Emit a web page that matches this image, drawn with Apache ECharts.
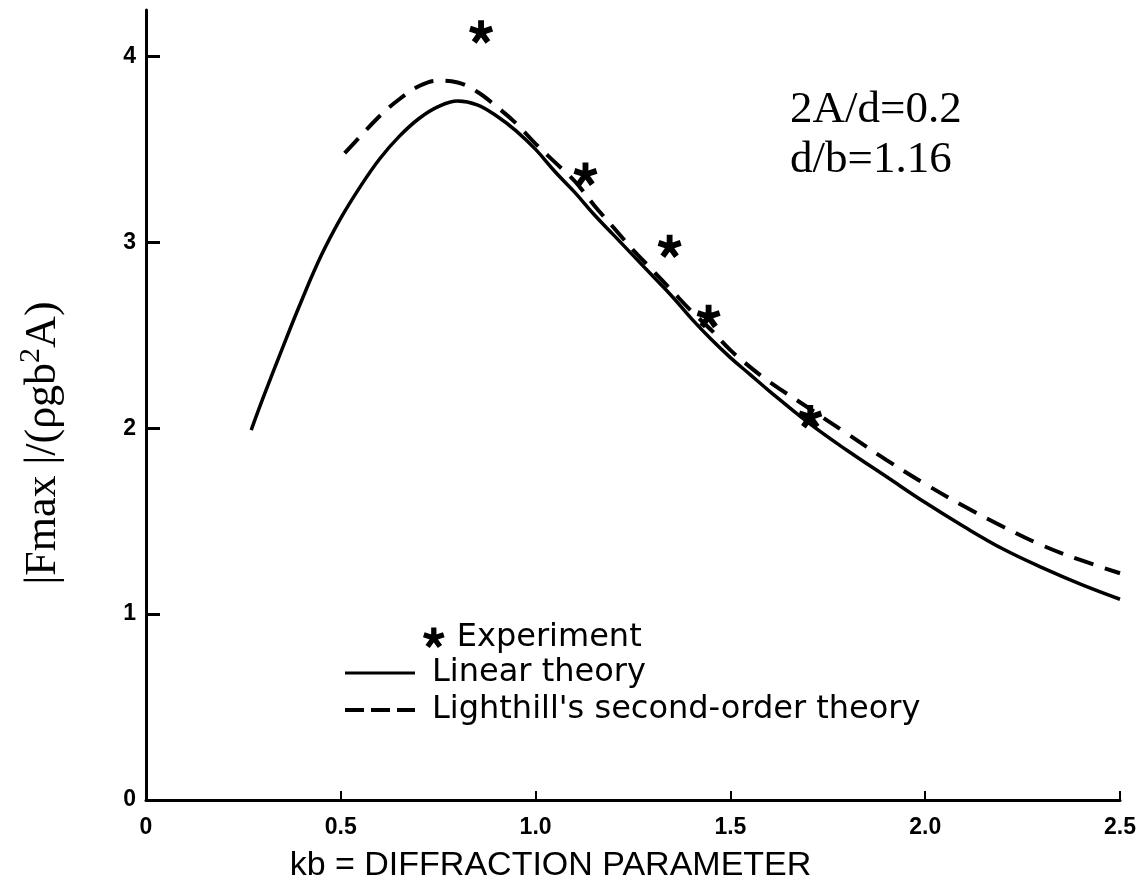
<!DOCTYPE html>
<html>
<head>
<meta charset="utf-8">
<script src="https://cdn.jsdelivr.net/npm/echarts@6/dist/echarts.min.js"></script>
<style>
  html, body { margin: 0; padding: 0; background: #fff; }
  #chart { width: 1146px; height: 889px; }
</style>
</head>
<body>
<div id="chart"></div>
<script>
// kb values and |Fmax|/(rho g b^2 A) for the linear theory
const linearKb = [0.27, 0.30, 0.35, 0.40, 0.45, 0.50, 0.55, 0.60, 0.65, 0.70, 0.75, 0.80, 0.85, 0.90, 0.95, 1.00, 1.05, 1.10, 1.15, 1.20, 1.25, 1.30, 1.35, 1.40, 1.45, 1.50, 1.55, 1.60, 1.70, 1.80, 1.90, 2.00, 2.10, 2.20, 2.30, 2.40, 2.50];
const linearF  = [1.99, 2.16, 2.43, 2.69, 2.93, 3.13, 3.30, 3.45, 3.57, 3.665, 3.73, 3.76, 3.74, 3.68, 3.60, 3.50, 3.38, 3.27, 3.15, 3.04, 2.93, 2.82, 2.71, 2.59, 2.48, 2.38, 2.29, 2.20, 2.03, 1.88, 1.74, 1.60, 1.47, 1.35, 1.25, 1.16, 1.08];

// Lighthill's second-order theory
const lighthillKb = [0.51, 0.55, 0.60, 0.65, 0.70, 0.75, 0.80, 0.85, 0.90, 0.95, 1.00, 1.05, 1.10, 1.15, 1.20, 1.25, 1.30, 1.35, 1.40, 1.45, 1.50, 1.55, 1.60, 1.70, 1.80, 1.90, 2.00, 2.10, 2.20, 2.30, 2.40, 2.50];
const lighthillF  = [3.48, 3.57, 3.68, 3.77, 3.84, 3.87, 3.86, 3.81, 3.73, 3.64, 3.53, 3.43, 3.33, 3.20, 3.08, 2.96, 2.85, 2.74, 2.63, 2.53, 2.42, 2.33, 2.25, 2.11, 1.97, 1.83, 1.70, 1.58, 1.47, 1.37, 1.29, 1.22];

// measured points
const expKb = [0.86, 1.128, 1.344, 1.444, 1.705];
const expF  = [4.13, 3.365, 2.977, 2.60, 2.06];

const yTicks = [0, 1, 2, 3, 4];

const zip = (a, b) => a.map((v, i) => [v, b[i]]);

// five-armed asterisk used as the experiment marker
function asteriskPath() {
  const L = 10, h = 2.5;
  let d = '';
  for (let k = 0; k < 5; k++) {
    const t = (-90 + 72 * k) * Math.PI / 180;
    const dx = Math.cos(t), dy = Math.sin(t);
    const px = -dy, py = dx;
    const pts = [
      [h * px, h * py],
      [L * dx + h * px, L * dy + h * py],
      [L * dx - h * px, L * dy - h * py],
      [-h * px, -h * py]
    ];
    d += 'M' + pts.map(p => p[0].toFixed(2) + ' ' + p[1].toFixed(2)).join(' L') + ' Z ';
  }
  // keep the symbol centred on the data point
  d += 'M0 10 L0 10 Z';
  return 'path://' + d;
}
const STAR = asteriskPath();
// legend keys: a plain bar and three dashes
const SOLID_KEY = 'path://M0 0 H70 V3 H0 Z';
const DASH_KEY = 'path://M0 0 H19 V4 H0 Z M26 0 H45 V4 H26 Z M52 0 H70 V4 H52 Z';

const chart = echarts.init(document.getElementById('chart'), null, { renderer: 'canvas' });

const sans = '"Liberation Sans", Arial, Helvetica, sans-serif';
const wide = '"DejaVu Sans", Verdana, sans-serif';
const serif = '"Liberation Serif", "Times New Roman", serif';

chart.setOption({
  backgroundColor: '#ffffff',
  animation: false,
  grid: { left: 146, right: 26, top: 10, bottom: 89, containLabel: false },
  xAxis: {
    type: 'value',
    min: 0, max: 2.5, interval: 0.5,
    name: 'kb = DIFFRACTION PARAMETER',
    nameLocation: 'middle',
    nameGap: 49,
    nameTextStyle: { fontFamily: sans, fontSize: 34, color: '#000', padding: [0, 165, 0, 0] },
    axisLine: { show: true, onZero: false, lineStyle: { color: '#000', width: 3 } },
    axisTick: { show: true, inside: true, length: 9, lineStyle: { color: '#000', width: 2 } },
    axisLabel: {
      fontFamily: sans, fontSize: 23, fontWeight: 'bold', color: '#000', margin: 16,
      formatter: v => (v === 0 ? '0' : v.toFixed(1))
    },
    splitLine: { show: false }
  },
  yAxis: {
    type: 'value',
    min: 0, max: 4.25, interval: 1,
    name: '{a||Fmax |/(ρgb}{s|2}{a|A)}',
    nameLocation: 'middle',
    nameRotate: 90,
    nameGap: 76,
    nameTextStyle: {
      color: '#000',
      padding: [0, 76, 0, 0],
      rich: {
        a: { fontFamily: serif, fontSize: 44, color: '#000', lineHeight: 52 },
        s: { fontFamily: serif, fontSize: 30, color: '#000', padding: [0, 0, 24, 0] }
      }
    },
    axisLine: { show: true, onZero: false, lineStyle: { color: '#000', width: 3 } },
    axisTick: { show: true, inside: true, length: 14, customValues: [1, 2, 3, 4], lineStyle: { color: '#000', width: 3 } },
    axisLabel: {
      fontFamily: sans, fontSize: 23, fontWeight: 'bold', color: '#000', margin: 10,
      customValues: yTicks,
      formatter: v => String(v)
    },
    splitLine: { show: false }
  },
  legend: [
    {
      data: [{ name: 'Experiment', icon: STAR }],
      left: 418, top: 616,
      itemWidth: 36, itemHeight: 21,
      itemStyle: { color: '#000', opacity: 1 },
      textStyle: { fontFamily: wide, fontSize: 32, lineHeight: 34, color: '#000' },
      selectedMode: false
    },
    {
      data: [
        { name: 'Linear theory', icon: SOLID_KEY },
        { name: "Lighthill's second-order theory", icon: DASH_KEY }
      ],
      orient: 'vertical',
      left: 340, top: 651,
      itemWidth: 70, itemHeight: 4, itemGap: 3,
      itemStyle: { color: '#000', opacity: 1 },
      textStyle: { fontFamily: wide, fontSize: 32, lineHeight: 34, color: '#000', padding: [0, 0, 0, 12] },
      selectedMode: false
    }
  ],
  graphic: [
    { type: 'text', left: 790, top: 88, style: { text: '2A/d=0.2', font: '45px ' + serif, fill: '#000' } },
    { type: 'text', left: 790, top: 138, style: { text: 'd/b=1.16', font: '45px ' + serif, fill: '#000' } }
  ],
  series: [
    {
      name: 'Linear theory',
      type: 'line',
      data: zip(linearKb, linearF),
      smooth: 0.4,
      symbol: 'none',
      lineStyle: { color: '#000', width: 3.5, type: 'solid' },
      itemStyle: { color: '#000' },
      z: 3
    },
    {
      name: "Lighthill's second-order theory",
      type: 'line',
      data: zip(lighthillKb, lighthillF),
      smooth: 0.4,
      symbol: 'none',
      lineStyle: { color: '#000', width: 4, type: [20, 12] },
      itemStyle: { color: '#000' },
      z: 3
    },
    {
      name: 'Experiment',
      type: 'scatter',
      data: zip(expKb, expF),
      symbol: STAR,
      symbolSize: 24,
      itemStyle: { color: '#000', opacity: 1 },
      z: 4
    }
  ]
});
</script>
</body>
</html>
